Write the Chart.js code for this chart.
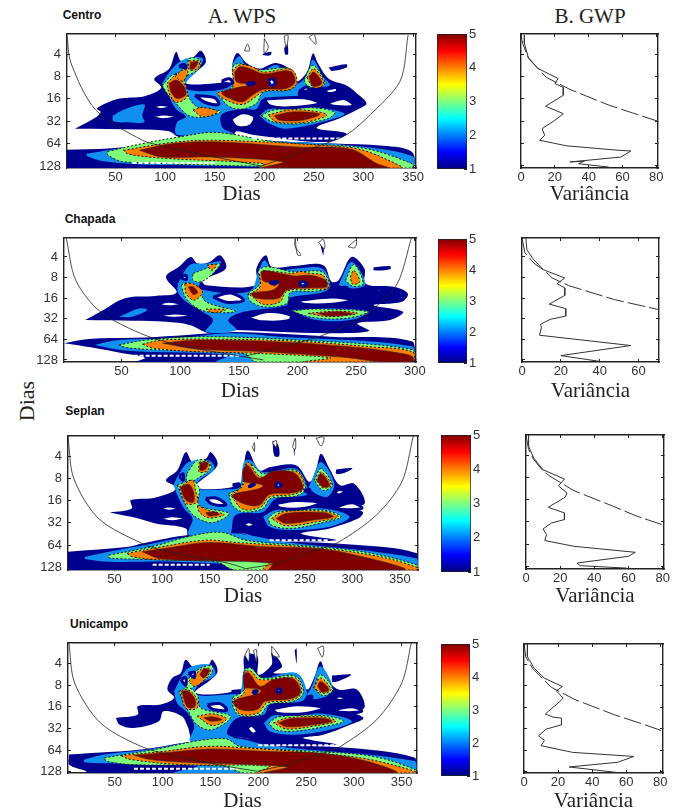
<!DOCTYPE html>
<html>
<head>
<meta charset="utf-8">
<title>WPS e GWP</title>
<script src="https://cdn.jsdelivr.net/npm/chart.js@4"></script>
<style>
  html, body { margin: 0; background: #fff; overflow: hidden; }
  #page { position: relative; width: 680px; height: 808px; overflow: hidden; }
  canvas { position: absolute; }
  .txt { position: absolute; color: #222; white-space: nowrap; transform: translate(-50%, -50%); }
  .serif { font-family: "Liberation Serif", serif; font-size: 21px; }
  .site { font-family: "Liberation Sans", sans-serif; font-size: 12px; font-weight: bold; color: #111; }
</style>
</head>
<body>
<div id="page">
  <div class="txt serif" style="left:242px;top:16px">A. WPS</div>
  <div class="txt serif" style="left:590px;top:16px">B. GWP</div>
  <div class="txt serif" style="left:27px;top:401px;font-size:22px;transform:translate(-50%,-50%) rotate(-90deg)">Dias</div>
  <div class="txt site" style="left:82px;top:15px">Centro</div>
  <div class="txt site" style="left:90px;top:219px">Chapada</div>
  <div class="txt site" style="left:85px;top:411px">Seplan</div>
  <div class="txt site" style="left:99px;top:624px">Unicampo</div>
</div>
<script>
// tick labels
var periodTicks = [4, 8, 16, 32, 64, 128];
var dayTicksCentro = [50, 100, 150, 200, 250, 300, 350];
var dayTicksChapada = [50, 100, 150, 200, 250, 300];
var dayTicksSeplan = [50, 100, 150, 200, 250, 300, 350];
var dayTicksUnicampo = [50, 100, 150, 200, 250, 300, 350];
var varTicks = [0, 20, 40, 60, 80];
var varTicksChapada = [0, 20, 40, 60];
var colorTicks = [1, 2, 3, 4, 5];
var colorRange = [1, 5];

// WPS contours: [day, log2(period)], one list per power level
var centroNavy = [
  [[9,5.33],[31,4.8],[35,4.58],[31,4.43],[53,4],[79,3.88],[96,3.5],[89,3.1],[104,2.65],[111,1.9],[116,2.3],[128,2.15],[136,1.85],[141,2.35],[131,2.8],[121,3.3],[151,3.3],[168,3.15],[168,2.4],[173,1.95],[182,2.4],[195,2.65],[212,2.4],[229,2.8],[232,3.25],[243,2.8],[249,1.97],[254,2.4],[265,3.1],[283,3.4],[292,3.7],[303,4.2],[293,4.5],[276,4.87],[253,5.3],[283,5.55],[263,5.93],[188,5.6],[172,5.45],[168,5.65],[114,5.7],[104,5.45],[74,5.37]],
  [[265,2.6],[283,2.45],[283,2.6],[268,2.75]],
  [[198,2],[207,1.9],[206,2.05],[200,2.05]],
  [[220,1.75],[223,1.5],[224,2],[221,2]],
  [[0,6.27],[43,6.22],[100,5.95],[160,5.6],[200,5.85],[270,6],[320,6.1],[349,6.37],[349,7.09],[0,7.09]]
];
var centroBlue = [
  [[47,4.75],[60,4.45],[79,4.25],[77,4.75],[79,5.05],[63,5.05],[48,5]],
  [[97,3.3],[107,2.65],[121,2.2],[138,2.2],[133,2.7],[121,3.3],[124,3.6],[155,3.6],[168,3.3],[168,2.5],[175,2.1],[183,2.6],[199,2.7],[213,2.5],[232,3.3],[243,2.95],[249,2.25],[259,3],[266,3.4],[236,3.55],[232,4],[199,4],[192,4.45],[178,4.45],[157,4.7],[158,5.3],[169,5.55],[112,5.6],[112,5.05],[121,4.8],[111,4.45],[104,3.9]],
  [[195,4.75],[205,4.45],[249,4.37],[281,4.65],[265,4.95],[222,5.33],[205,5.1]],
  [[21,6.45],[45,6.27],[97,5.95],[130,5.65],[165,5.6],[200,5.85],[280,6.05],[349,6.55],[349,7.09],[300,7.09],[90,6.95],[40,6.8],[21,6.55]]
];
var centroGreen = [
  [[97,3.4],[109,2.9],[119,3.15],[122,3.75],[132,4.35],[156,4.55],[141,4.8],[124,4.75],[111,4.2],[102,3.75]],
  [[110,2.9],[122,2.65],[124,2.2],[135,2.25],[134,2.65],[121,2.95]],
  [[155,3.9],[168,3.4],[168,2.6],[173,2.42],[182,2.5],[195,2.7],[226,2.65],[232,3.3],[226,3.6],[199,3.7],[192,4.2],[178,4.45],[165,4.35]],
  [[197,4.75],[209,4.5],[249,4.4],[271,4.6],[263,4.9],[233,5.12],[209,5.03]],
  [[240,3.15],[249,2.5],[261,3.3],[253,3.5],[243,3.4]],
  [[42,6.35],[77,6],[121,5.65],[145,5.5],[168,5.58],[200,5.85],[232,6],[300,6.2],[349,6.9],[349,7.09],[300,7.09],[59,6.82],[42,6.5]]
];
var centroOrange = [
  [[102,3.3],[111,2.95],[119,3.3],[122,3.9],[111,4.15],[104,3.75]],
  [[110,3],[118,2.7],[123,2.75],[118,3.2]],
  [[124,2.3],[134,2.3],[133,2.65],[124,2.7]],
  [[128,4.5],[138,4.38],[153,4.58],[138,4.8]],
  [[168,2.75],[175,2.48],[187,2.55],[199,2.8],[227,2.68],[233,3.27],[224,3.6],[200,3.65],[190,3.95],[178,4.25],[163,4.08],[153,3.75],[168,3.48]],
  [[204,4.72],[229,4.48],[263,4.7],[243,5.03],[212,5.03]],
  [[243,3.05],[250,2.65],[260,3.33],[250,3.5]],
  [[58,6.3],[107,5.95],[151,5.85],[266,6.1],[300,6.3],[339,7.03],[339,7.09],[195,7.09],[200,6.9],[97,6.65],[63,6.47]]
];
var centroRed = [
  [[170,2.8],[175,2.57],[185,2.64],[199,2.88],[226,2.76],[231,3.24],[222,3.54],[199,3.58],[188,3.84],[178,4.13],[165,3.98],[157,3.73],[168,3.54],[187,3.36],[172,3.24]],
  [[104,3.3],[111,3.16],[118,3.38],[121,3.8],[112,3.98],[106,3.7]],
  [[126,2.35],[133,2.35],[129,2.65],[125,2.65]],
  [[210,4.75],[229,4.58],[256,4.68],[239,4.95],[215,4.95]],
  [[245,3],[250,2.8],[258,3.3],[249,3.43]],
  [[74,6.3],[107,6],[151,5.92],[232,6.15],[287,6.25],[314,6.9],[325,7.09],[198,7.09],[219,6.82],[148,6.6],[97,6.6]]
];
var centroHoles = [
  [[86,4.35],[96,4.25],[106,4.35],[96,4.48]],
  [[84,4.8],[98,4.68],[113,4.8],[98,4.93]],
  [[130,3.85],[150,3.95],[154,4.25],[140,4.15]],
  [[166,4.9],[178,4.62],[190,4.8],[186,5.2],[172,5.25]],
  [[200,4],[240,3.95],[256,4.2],[225,4.4],[205,4.3]],
  [[263,4.2],[280,3.98],[290,4.3],[270,4.33]],
  [[262,3.58],[273,3.5],[273,3.7],[263,3.73]],
  [[238,3.55],[243,3.47],[245,3.6],[240,3.65]],
  [[157,3.2],[165,3.1],[168,3.3],[160,3.3]],
  [[114,2.55],[119,2.45],[121,2.6]],
  [[204,3.2],[208,3.1],[211,3.3],[207,3.4]],
  [[182,3.3],[190,3.28],[185,3.38]]
];
var centroStrips = [[[188,5.77],[277,5.77]], [[67,6.87],[150,6.87]]];
var centroOutlines = [
  [[180,1.85],[183,1.55],[185,1.85]],
  [[200,1.3],[204,1.7],[200,1.95]],
  [[220,1.2],[224,1.15],[222,1.7]],
  [[245,1.25],[250,1.1],[252,1.55]]
];
var centroCone = [
  [[1,1.15],[5,2.4],[30,4.5],[77,5.85],[97,6.1],[150,6.6],[197,7]],
  [[345,1.15],[337,3.2],[307,4.7],[283,5.6],[252,6.15],[197,7]]
];

var chapadaNavy = [
  [[19,5.06],[32,4.66],[53,4],[79,3.89],[97,3.73],[88,2.97],[99,2.48],[109,2],[115,2.32],[125,2.24],[134,1.92],[139,2.56],[119,3.13],[122,3.37],[165,3.37],[165,2.56],[173,1.92],[178,2.48],[197,2.44],[222,2.4],[229,3.2],[235,3.13],[246,2],[257,2.56],[258,3.3],[282,3.45],[294,3.77],[289,4.18],[265,4.34],[290,4.66],[279,5.06],[251,5.22],[261,5.6],[228,5.7],[182,5.63],[142,5.55],[125,5.7],[108,5.3],[88,5.15],[60,5.1]],
  [[265,2.5],[279,2.45],[279,2.6],[265,2.65]],
  [[219,1.3],[222,1.2],[222,1.9]],
  [[1,6.19],[22,5.98],[62,5.92],[97,5.82],[142,5.65],[182,5.72],[228,5.87],[298,6.11],[298,7.1],[62,7.1],[70,6.9],[51,6.68],[25,6.4]]
];
var chapadaBlue = [
  [[98,3.3],[108,2.4],[122,2.32],[135,2.24],[119,3.13],[116,3.55],[159,3.66],[167,2.65],[172,2.16],[179,2.65],[199,2.56],[221,2.56],[228,3.37],[222,3.7],[192,4],[191,4.34],[154,4.66],[141,5.06],[148,5.55],[122,5.63],[128,5.06],[119,4.66],[105,4.18],[98,3.7]],
  [[48,4.9],[65,4.5],[72,4.58],[59,4.9]],
  [[194,4.58],[228,4.5],[261,4.66],[245,5.06],[216,5.06]],
  [[235,3.37],[246,2.24],[258,3.3],[249,3.53]],
  [[27,6.27],[48,6.03],[97,5.95],[142,5.7],[185,5.87],[298,6.35],[298,7.1],[131,7.1],[142,6.76],[71,6.6],[48,6.5]]
];
var chapadaGreen = [
  [[101,3.37],[106,3.24],[116,3.6],[122,4.18],[147,4.63],[128,4.7],[115,4.5],[105,4]],
  [[111,2.8],[122,2.56],[134,2.32],[128,2.8],[118,3.2],[111,3.13]],
  [[158,3.77],[168,3.3],[167,2.65],[174,2.48],[197,2.73],[221,2.73],[227,3.45],[216,3.66],[194,3.72],[191,4.26],[171,4.42],[159,4.1]],
  [[195,4.63],[214,4.53],[260,4.66],[242,4.98],[214,4.95]],
  [[241,3.13],[248,2.37],[256,3.3],[247,3.42]],
  [[48,6.27],[71,6.03],[119,5.87],[199,6.03],[298,6.5],[298,7.1],[165,7.1],[154,6.68],[77,6.5],[54,6.4]]
];
var chapadaOrange = [
  [[104,3.3],[111,3.3],[119,3.7],[112,4.1],[105,3.77]],
  [[123,2.4],[131,2.37],[127,2.65]],
  [[122,4.53],[139,4.56],[128,4.7]],
  [[159,3.82],[168,3.45],[169,2.73],[197,2.8],[202,2.7],[211,2.8],[222,2.9],[226,3.5],[214,3.56],[191,3.66],[185,4.18],[171,4.3]],
  [[209,4.74],[234,4.63],[251,4.74],[228,4.9]],
  [[245,2.97],[248,2.65],[253,3.2],[247,3.32]],
  [[68,6.24],[85,6.03],[142,6],[205,6.11],[259,6.35],[298,6.6],[298,7.1],[205,7.1],[228,6.9],[165,6.68],[114,6.6],[77,6.43]]
];
var chapadaRed = [
  [[169,2.8],[171,2.65],[197,2.92],[211,2.89],[224,3.13],[225,3.45],[214,3.5],[191,3.6],[184,4],[165,4],[161,3.77],[179,3.6],[184,3.3],[171,3.18]],
  [[217,4.74],[234,4.66],[247,4.77],[228,4.87]],
  [[107,3.45],[111,3.45],[115,3.73],[111,3.82]],
  [[85,6.19],[114,6.03],[194,6.15],[257,6.43],[288,6.68],[298,6.84],[298,7.1],[271,7.1],[241,6.88],[171,6.6],[114,6.47]]
];
var chapadaHoles = [
  [[79,4.3],[90,4.15],[101,4.3],[90,4.42]],
  [[79,4.85],[95,4.72],[112,4.85],[95,4.98]],
  [[128,3.95],[143,3.75],[154,4.1],[140,4.2]],
  [[157,4.95],[175,4.65],[195,4.85],[192,5.1],[170,5.15]],
  [[200,4.1],[230,3.95],[247,4.1],[230,4.3],[205,4.3]],
  [[262,3.6],[271,3.55],[271,3.7]],
  [[235,3.5],[242,3.48],[242,3.62]],
  [[99,2.95],[105,2.9],[105,3.1]],
  [[201,3.25],[205,3.2],[208,3.33],[204,3.4]],
  [[176,3.24],[183,3.2],[180,3.33]]
];
var chapadaStrips = [[[45,6.8],[150,6.8]]];
var chapadaOutlines = [
  [[198,1.1],[198,1.5],[203,1.9],[200,1.9]],
  [[218,1.3],[222,1.15],[223,1.6]],
  [[243,1.5],[250,1.2],[249,1.55]]
];
var chapadaCone = [
  [[3,1.1],[11,3.13],[32,4.66],[71,5.82],[105,6.35],[154,6.84],[171,7]],
  [[297,1.1],[285,3.3],[265,4.5],[242,5.3],[214,5.95],[171,6.6],[154,6.84]]
];

var seplanNavy = [
  [[45,4.54],[68,4.36],[67,3.99],[91,3.88],[111,3.61],[114,3.39],[104,3.09],[116,2.64],[125,1.82],[132,2.27],[146,2.12],[151,1.82],[158,2.42],[135,3.39],[181,3.31],[185,2.64],[190,1.75],[202,2.64],[214,2.49],[241,2.42],[255,3.16],[262,2.57],[267,1.9],[276,2.57],[287,3.31],[302,3.24],[313,4.13],[292,4.28],[311,4.51],[306,4.81],[276,5.25],[246,5.48],[283,5.78],[206,5.78],[185,5.48],[128,5.63],[125,5.25],[93,5.03],[75,4.81]],
  [[283,2.6],[300,2.55],[292,2.75],[283,2.8]],
  [[216,1.3],[222,1.5],[223,2],[218,2]],
  [[238,1.5],[240,1.2],[239,2]],
  [[0,6.3],[65,6.07],[79,5.93],[128,5.55],[185,5.48],[206,5.78],[283,5.93],[368,6.37],[368,7.12],[0,7.12]]
];
var seplanBlue = [
  [[112,3.31],[118,2.79],[128,2.27],[149,2.19],[155,2.57],[139,3.09],[135,3.46],[170,3.49],[181,3.39],[186,2.27],[193,2.19],[206,2.72],[241,2.57],[253,3.46],[251,3.76],[220,3.91],[206,4.51],[177,4.66],[170,5.55],[128,5.55],[132,4.81],[123,4.36],[116,3.76]],
  [[206,4.73],[220,4.43],[269,4.36],[297,4.73],[276,5.18],[234,5.33],[213,5.18]],
  [[258,3.01],[267,2.27],[281,3.24],[273,3.84],[255,3.46]],
  [[19,6.52],[44,6.3],[82,6],[128,5.63],[177,5.48],[227,5.85],[368,6.6],[368,7.12],[300,7.12],[114,6.75],[44,6.75],[19,6.63]]
];
var seplanGreen = [
  [[126,2.79],[137,2.19],[149,2.27],[151,2.57],[137,3.01],[126,3.24]],
  [[116,3.31],[132,3.09],[139,3.46],[139,4.21],[170,4.58],[153,4.99],[135,4.73],[125,4.21]],
  [[170,3.69],[183,3.39],[188,2.34],[195,2.42],[206,2.79],[241,2.64],[251,3.46],[241,3.79],[214,3.91],[206,4.36],[185,4.51],[174,4.21]],
  [[211,4.81],[221,4.51],[269,4.43],[288,4.73],[269,4.99],[237,5.25],[216,5.13]],
  [[260,3.09],[267,2.57],[279,3.31],[269,3.54]],
  [[44,6.45],[89,6.07],[135,5.55],[163,5.43],[188,5.78],[241,6],[311,6.3],[368,6.9],[368,7.12],[177,7.12],[156,6.75],[68,6.63],[44,6.57]]
];
var seplanOrange = [
  [[118,3.39],[132,3.09],[135,3.54],[137,4.06],[125,4.13]],
  [[137,4.21],[148,4.43],[165,4.63],[149,4.78],[139,4.51]],
  [[139,2.27],[149,2.27],[148,2.64],[139,2.72]],
  [[172,3.76],[185,3.31],[190,2.27],[204,2.94],[241,2.69],[249,3.46],[237,3.73],[213,3.84],[204,4.28],[185,4.39]],
  [[215,4.81],[227,4.51],[269,4.48],[285,4.73],[262,4.96],[230,5.13]],
  [[262,3.09],[267,2.72],[278,3.31],[269,3.43]],
  [[63,6.37],[100,6.07],[146,5.78],[177,5.88],[269,6.15],[329,6.52],[368,7],[368,7.12],[206,7.12],[213,6.75],[100,6.67],[68,6.52]]
];
var seplanRed = [
  [[119,3.39],[128,3.27],[133,3.61],[133,4.06],[125,3.99]],
  [[140,2.3],[148,2.3],[146,2.57],[140,2.64]],
  [[146,4.54],[156,4.51],[160,4.63],[149,4.69]],
  [[185,3.16],[185,2.64],[190,2.42],[202,2.99],[216,2.69],[239,2.76],[248,3.46],[236,3.66],[213,3.73],[202,4.21],[185,4.13],[174,3.76],[202,3.46],[206,3.31]],
  [[220,4.81],[230,4.58],[269,4.54],[280,4.73],[258,4.88],[230,5.03]],
  [[263,3.09],[267,2.79],[276,3.31],[269,3.39]],
  [[79,6.3],[107,6.12],[149,5.88],[206,6.07],[269,6.18],[325,6.67],[355,7.04],[355,7.12],[213,7.12],[216,6.82],[100,6.63]]
];
var seplanHoles = [
  [[96,4.36],[107,4.25],[118,4.36],[107,4.48]],
  [[95,4.82],[110,4.68],[125,4.8],[110,4.95]],
  [[146,3.9],[158,3.9],[167,4.2],[152,4.15]],
  [[185,5.08],[191,4.95],[197,5.08],[191,5.2]],
  [[218,4.15],[240,4],[266,4.1],[250,4.35],[225,4.35]],
  [[281,4.3],[300,4.1],[310,4.35],[290,4.4]],
  [[281,3.6],[287,3.5],[292,3.6],[285,3.75]],
  [[118,2.9],[122,2.8],[122,3.1]],
  [[174,3.3],[181,3.25],[181,3.35]],
  [[249,3.55],[255,3.5],[254,3.65]],
  [[219,3.3],[222,3.2],[225,3.3],[222,3.4]],
  [[192,3.3],[197,3.28],[192,3.38]]
];
var seplanStrips = [[[213,5.78],[276,5.78]], [[90,6.88],[150,6.88]]];
var seplanOutlines = [
  [[195,1.6],[197,1.4],[197,1.8]],
  [[216,1.4],[220,1.3],[220,1.6]],
  [[237,1.6],[240,1.2],[240,1.7]],
  [[262,1.2],[270,1.15],[267,1.55]]
];
var seplanCone = [
  [[1,1.1],[7,3],[33,4.8],[79,5.93],[107,6.3],[170,6.82],[188,7.06]],
  [[364,1.1],[352,3.16],[325,4.66],[285,5.88],[265,6.18],[220,6.82],[188,7.06]]
];

var unicampoNavy = [
  [[51,4.51],[74,4.35],[74,3.97],[98,3.89],[112,3.58],[105,3.2],[110,2.66],[119,2.43],[124,1.82],[133,2.2],[147,2.12],[152,1.82],[157,2.43],[134,3.35],[181,3.2],[185,2.51],[186,1.6],[199,1.66],[200,2.51],[214,2.05],[214,1.5],[225,2.12],[216,2.43],[240,2.51],[251,3.2],[259,2.58],[265,1.89],[272,2.66],[284,3.2],[303,3.2],[311,4.05],[291,4.12],[310,4.51],[296,4.82],[268,5.28],[247,5.43],[282,5.74],[202,5.74],[185,5.43],[133,5.58],[126,4.89],[120,4.43],[101,4.2],[96,4.66],[70,4.97],[55,4.82]],
  [[277,2.55],[297,2.5],[290,2.7],[278,2.85]],
  [[238,1.4],[240,1.3],[240,2]],
  [[2,6.2],[77,5.97],[133,5.58],[185,5.43],[202,5.74],[282,5.85],[364,6.35],[364,7.05],[20,7.05],[20,6.97],[2,6.66]]
];
var unicampoBlue = [
  [[112,3.28],[119,2.66],[127,2.2],[150,2.05],[155,2.51],[138,2.97],[134,3.43],[167,3.43],[181,3.28],[185,2.28],[193,2.2],[202,2.66],[240,2.43],[251,3.35],[245,3.74],[212,3.89],[206,4.35],[178,4.51],[167,5.2],[174,5.43],[129,5.58],[133,4.89],[126,4.28],[115,3.82]],
  [[206,4.74],[216,4.4],[268,4.31],[298,4.66],[275,5.05],[237,5.28],[212,5.12]],
  [[256,3.05],[265,2.12],[278,3.12],[270,3.54],[251,3.58]],
  [[18,6.43],[39,6.2],[84,5.97],[133,5.58],[174,5.43],[212,5.78],[364,6.5],[364,7.05],[112,7.05],[136,6.74],[39,6.6],[18,6.55]]
];
var unicampoGreen = [
  [[124,2.82],[140,2.2],[152,2.12],[150,2.51],[136,2.97],[126,3.2]],
  [[117,3.28],[127,3.12],[136,3.43],[140,4.05],[171,4.43],[152,5.05],[136,4.82],[126,4.12]],
  [[173,3.58],[185,3.2],[186,2.35],[192,2.2],[204,2.66],[239,2.58],[247,3.35],[237,3.74],[211,3.89],[202,4.35],[181,4.4],[174,4.05]],
  [[211,4.74],[221,4.46],[268,4.4],[289,4.66],[268,4.92],[237,5.12],[218,5.05]],
  [[258,3.12],[265,2.51],[278,3.2],[268,3.48]],
  [[39,6.35],[91,5.97],[140,5.54],[167,5.48],[181,5.82],[258,6.05],[320,6.28],[364,6.89],[364,7.05],[185,7.05],[164,6.74],[67,6.66],[41,6.5]]
];
var unicampoOrange = [
  [[127,2.82],[141,2.25],[150,2.25],[147,2.58],[134,3.05]],
  [[119,3.28],[126,3.2],[135,3.58],[136,4.05],[124,4.05]],
  [[136,4.43],[152,4.32],[167,4.55],[152,4.86]],
  [[174,3.66],[185,3.35],[185,2.43],[192,2.35],[202,2.74],[239,2.66],[245,3.35],[235,3.69],[209,3.82],[200,4.28],[180,4.31]],
  [[216,4.74],[230,4.51],[268,4.46],[281,4.66],[261,4.86],[230,5.02]],
  [[258,3.12],[265,2.66],[276,3.2],[268,3.38]],
  [[56,6.25],[101,6.05],[147,5.82],[185,5.89],[268,6.15],[317,6.43],[364,6.97],[364,7.05],[199,7.05],[212,6.74],[119,6.66],[67,6.43]]
];
var unicampoRed = [
  [[139,2.51],[143,2.25],[149,2.31],[143,2.66]],
  [[120,3.28],[126,3.25],[133,3.58],[134,3.97],[126,4.02]],
  [[143,4.5],[153,4.46],[162,4.58],[150,4.66]],
  [[185,3.12],[185,2.51],[190,2.43],[202,3.05],[216,2.74],[237,2.71],[244,3.35],[233,3.63],[207,3.74],[199,4.12],[181,4.12],[174,3.74],[202,3.35],[202,3.2]],
  [[221,4.74],[233,4.55],[268,4.52],[277,4.66],[258,4.82],[230,4.92]],
  [[262,3.05],[265,2.82],[274,3.2],[267,3.32]],
  [[70,6.23],[101,6.12],[150,5.94],[206,6.05],[268,6.15],[313,6.5],[344,7.05],[206,7.05],[230,6.77],[122,6.55],[87,6.43]]
];
var unicampoHoles = [
  [[147,3.9],[160,3.85],[167,4.15],[152,4.1]],
  [[188,5],[193,4.85],[199,5.15],[194,5.25]],
  [[214,4.1],[240,3.9],[268,4.05],[250,4.3],[220,4.3]],
  [[277,3.6],[285,3.5],[292,3.6],[285,3.7]],
  [[280,4.1],[300,4],[308,4.2],[285,4.25]],
  [[172,3.3],[180,3.25],[180,3.35]],
  [[119,2.75],[124,2.65],[124,3]],
  [[250,3.55],[256,3.5],[255,3.65]],
  [[127,2.45],[133,2.4],[133,2.65]],
  [[219,3.25],[221,3.15],[224,3.25],[221,3.35]],
  [[194,3.28],[199,3.25],[196,3.38]]
];
var unicampoStrips = [[[200,5.77],[280,5.77]], [[70,6.85],[180,6.85]]];
var unicampoOutlines = [
  [[186,1.6],[190,1.3],[190,1.9]],
  [[195,1.4],[198,1.35],[198,1.9]],
  [[214,1.2],[218,1.4],[222,1.7],[215,1.6]],
  [[262,1.3],[268,1.2],[267,1.7]]
];
var unicampoCone = [
  [[2,1.05],[8,2.9],[35,4.74],[79,5.85],[115,6.28],[171,6.77],[199,6.97]],
  [[360,1.05],[350,2.9],[324,4.58],[285,5.85],[268,6.12],[230,6.66],[199,6.97]]
];

// GWP curves: [variance, log2(period)]
var centroGwp = [[2,1.15],[2,1.52],[4.5,2.2],[10,2.64],[22,3.09],[20,3.31],[25,3.49],[25,3.84],[14.5,4.33],[25,4.66],[20,4.96],[12.5,5.33],[14,5.63],[11,5.85],[27,6.1],[58,6.3],[65,6.33],[59,6.6],[29,6.82],[37.5,6.78],[34,6.9],[52,7.05]];
var centroSig = [[0,1.15],[1,1.52],[4,2.12],[10,2.64],[15,3.04],[29,3.58],[52,4.28],[66,4.63],[80.5,4.99]];
var chapadaGwp = [[2,1.08],[2.5,1.65],[6,2.13],[11,2.62],[22,3.02],[18,3.3],[22,3.5],[22,3.87],[14,4.29],[22.5,4.51],[22.5,4.87],[14.5,5.03],[9.5,5.27],[10,5.43],[9,5.8],[56,6.3],[20,6.79],[40,7.07]];
var chapadaSig = [[0,1.08],[1.5,1.8],[6,2.29],[12,2.7],[15.5,3.02],[24,3.39],[47.5,4.07],[70.5,4.56]];
var seplanGwp = [[1.5,1.1],[1.5,1.6],[4.5,2.13],[10,2.66],[22.5,3.08],[19,3.38],[24,3.71],[23,3.89],[13,4.35],[22.5,4.6],[22.5,4.9],[15,5.05],[10,5.32],[12,5.57],[11,5.84],[28,6.1],[64,6.37],[60,6.55],[30,6.85],[31.5,6.97],[59,7.08]];
var seplanSig = [[0,1.1],[1.5,1.75],[4.5,2.2],[10,2.72],[14,2.95],[28,3.6],[51,4.3],[65,4.75],[79.5,5.12]];
var unicampoGwp = [[2,1.05],[2,1.64],[6,2.18],[12,2.64],[22.5,3.03],[19,3.23],[23,3.57],[20,3.8],[12.5,4.3],[17,4.45],[22,4.5],[22,4.81],[13,5.01],[8.5,5.32],[12,5.53],[10,5.78],[28.5,6.09],[64.5,6.28],[55,6.55],[26.5,6.77],[54,7.02]];
var unicampoSig = [[0,1.05],[1,1.64],[5,2.18],[12,2.75],[16,3.06],[29.5,3.62],[53,4.34],[68,4.73],[80.5,5.07]];

var ink = '#222';
var tickFont = { family: 'Liberation Sans', size: 13 };
var titleFont = { family: 'Liberation Serif', size: 21 };
var jet = [[0, '#00007f'], [0.125, '#0000ff'], [0.375, '#00ffff'], [0.625, '#ffff00'], [0.875, '#ff0000'], [1, '#7f0000']];
var page = document.getElementById('page');
var ML = 45, MR = 18, MT = 6;

function addCanvas(box, mb) {
  var c = document.createElement('canvas');
  c.width = box.x1 - box.x0 + ML + MR;
  c.height = box.y1 - box.y0 + MT + mb;
  c.style.left = (box.x0 - ML) + 'px';
  c.style.top = (box.y0 - MT) + 'px';
  page.appendChild(c);
  return c;
}

function polyLayers(list, color, line) {
  return list.map(function (pts) {
    return {
      data: pts.concat([pts[0]]), showLine: true, pointRadius: 0, tension: 0.35,
      fill: 'shape', backgroundColor: color,
      borderColor: line ? line.color : color,
      borderWidth: line ? line.width : 0,
      borderDash: line && line.dash ? line.dash : []
    };
  });
}

function lineLayers(list, color, width, dash, tension) {
  return list.map(function (pts) {
    return { data: pts, showLine: true, pointRadius: 0, tension: tension, fill: false,
      borderColor: color, borderWidth: width, borderDash: dash };
  });
}

// fixed scale size, and no extra room for the first/last tick label
function fixSize(prop, v) {
  return function (s) {
    s[prop] = v;
    s.paddingTop = s.paddingBottom = s.paddingLeft = s.paddingRight = 0;
  };
}

// x and y axis plus two empty ones, so the box and the inward ticks show on all 4 sides
function boxScales(o) {
  function ticksAt(vals) {
    return function (s) { s.ticks = vals.map(function (v) { return { value: v }; }); };
  }
  var grid = { drawOnChartArea: false, tickLength: -3, color: ink };
  var border = { color: ink, width: 1.4 };
  var xBase = { type: 'linear', min: o.xMin, max: o.xMax, grid: grid, border: border, afterBuildTicks: ticksAt(o.xTicks) };
  var yBase = { type: 'linear', min: o.yMin, max: o.yMax, reverse: true, grid: grid, border: border, afterBuildTicks: ticksAt(o.yTicks) };
  return {
    x: Object.assign({}, xBase, {
      position: 'bottom', afterFit: fixSize('height', o.mb),
      ticks: { padding: 5, font: tickFont, color: '#333', maxRotation: 0, autoSkip: false },
      title: { display: true, text: o.title, font: titleFont, color: ink, padding: 0 }
    }),
    y: Object.assign({}, yBase, {
      position: 'left', afterFit: fixSize('width', ML),
      ticks: { display: o.yLabels, padding: 9, font: tickFont, color: '#333', autoSkip: false,
        callback: function (v) { return Math.pow(2, v); } }
    }),
    xTop: Object.assign({}, xBase, { position: 'top', afterFit: fixSize('height', 0), ticks: { display: false } }),
    yRight: Object.assign({}, yBase, { position: 'right', afterFit: fixSize('width', 0), ticks: { display: false } })
  };
}

function drawWps(box, p) {
  var dashed = { color: '#111', width: 1, dash: [2, 2] };
  var layers = [].concat(
    polyLayers(p.navy, '#00008f'),
    polyLayers(p.blue, '#0f8fef'),
    polyLayers(p.green, '#7dff7a', dashed),
    polyLayers(p.orange, '#ff7f00', dashed),
    polyLayers(p.red, '#800000', { color: '#333', width: 0.6 }),
    polyLayers(p.holes, '#fff', { color: '#00008f', width: 3 }),
    lineLayers(p.strips, '#fff', 2, [4, 2], 0),
    polyLayers(p.outlines, '#fff', { color: ink, width: 0.8 }),
    lineLayers(p.cone, ink, 0.8, [], 0.3)
  );
  new Chart(addCanvas(box, box.mb), {
    type: 'scatter',
    data: { datasets: layers.reverse() }, // first dataset is painted last
    options: {
      responsive: false, animation: false,
      layout: { autoPadding: false, padding: { top: MT, right: MR, left: 0, bottom: 0 } },
      plugins: { legend: { display: false }, tooltip: { enabled: false } },
      scales: boxScales({ xMin: 1, xMax: box.xMax, xTicks: p.dayTicks, yMin: box.yMin, yMax: box.yMax,
        yTicks: periodTicks.map(Math.log2), yLabels: true, mb: box.mb, title: 'Dias' })
    }
  });
}

function drawGwp(box, ticks, gwp, sig) {
  var layers = [].concat(
    lineLayers([gwp], '#333', 1, [], 0),
    lineLayers([sig], '#333', 1, [18, 4], 0)
  );
  new Chart(addCanvas(box, box.mb), {
    type: 'scatter',
    data: { datasets: layers },
    options: {
      responsive: false, animation: false,
      layout: { autoPadding: false, padding: { top: MT, right: MR, left: 0, bottom: 0 } },
      plugins: { legend: { display: false }, tooltip: { enabled: false } },
      scales: boxScales({ xMin: 0, xMax: box.xMax, xTicks: ticks, yMin: box.yMin, yMax: box.yMax,
        yTicks: periodTicks.map(Math.log2), yLabels: false, mb: box.mb, title: 'Variância' })
    }
  });
}

function drawColorbar(box) {
  new Chart(addCanvas(box, 10), {
    type: 'bar',
    data: {
      labels: [''],
      datasets: [{
        data: [colorRange], barPercentage: 1, categoryPercentage: 1,
        borderColor: ink, borderWidth: 1, borderSkipped: false,
        backgroundColor: function (ctx) {
          var area = ctx.chart.chartArea;
          if (!area) return '#000';
          var g = ctx.chart.ctx.createLinearGradient(0, area.bottom, 0, area.top);
          jet.forEach(function (s) { g.addColorStop(s[0], s[1]); });
          return g;
        }
      }]
    },
    options: {
      responsive: false, animation: false,
      layout: { autoPadding: false, padding: { top: MT, bottom: 10, left: ML, right: 0 } },
      plugins: { legend: { display: false }, tooltip: { enabled: false } },
      scales: {
        x: { display: false },
        y: {
          position: 'right', min: 1, max: 5,
          afterBuildTicks: function (s) { s.ticks = colorTicks.map(function (v) { return { value: v }; }); },
          afterFit: fixSize('width', MR),
          grid: { drawOnChartArea: false, tickLength: -3, color: ink },
          border: { display: false },
          ticks: { padding: 5, font: tickFont, color: '#333', autoSkip: false }
        }
      }
    }
  });
}

drawWps({ x0: 67, x1: 416, y0: 34, y1: 168, xMax: 353, yMin: 1.1, yMax: 7.09, mb: 39 },
  { navy: centroNavy, blue: centroBlue, green: centroGreen, orange: centroOrange, red: centroRed,
    holes: centroHoles, strips: centroStrips, outlines: centroOutlines, cone: centroCone, dayTicks: dayTicksCentro });
drawWps({ x0: 64, x1: 416, y0: 238, y1: 362, xMax: 301, yMin: 1.08, yMax: 7.1, mb: 42 },
  { navy: chapadaNavy, blue: chapadaBlue, green: chapadaGreen, orange: chapadaOrange, red: chapadaRed,
    holes: chapadaHoles, strips: chapadaStrips, outlines: chapadaOutlines, cone: chapadaCone, dayTicks: dayTicksChapada });
drawWps({ x0: 68, x1: 418, y0: 436, y1: 570, xMax: 369, yMin: 1.1, yMax: 7.12, mb: 39 },
  { navy: seplanNavy, blue: seplanBlue, green: seplanGreen, orange: seplanOrange, red: seplanRed,
    holes: seplanHoles, strips: seplanStrips, outlines: seplanOutlines, cone: seplanCone, dayTicks: dayTicksSeplan });
drawWps({ x0: 68, x1: 417, y0: 643, y1: 773, xMax: 366, yMin: 1.05, yMax: 7.05, mb: 41 },
  { navy: unicampoNavy, blue: unicampoBlue, green: unicampoGreen, orange: unicampoOrange, red: unicampoRed,
    holes: unicampoHoles, strips: unicampoStrips, outlines: unicampoOutlines, cone: unicampoCone, dayTicks: dayTicksUnicampo });

drawColorbar({ x0: 437, x1: 467, y0: 34, y1: 169 });
drawColorbar({ x0: 438, x1: 467, y0: 239, y1: 363 });
drawColorbar({ x0: 441, x1: 471, y0: 435, y1: 572 });
drawColorbar({ x0: 441, x1: 470, y0: 644, y1: 776 });

drawGwp({ x0: 521, x1: 658, y0: 34, y1: 168, xMax: 81, yMin: 1.1, yMax: 7.09, mb: 39 }, varTicks, centroGwp, centroSig);
drawGwp({ x0: 522, x1: 659, y0: 238, y1: 362, xMax: 70.5, yMin: 1.08, yMax: 7.1, mb: 42 }, varTicksChapada, chapadaGwp, chapadaSig);
drawGwp({ x0: 526, x1: 664, y0: 435, y1: 569, xMax: 80.8, yMin: 1.1, yMax: 7.12, mb: 40 }, varTicks, seplanGwp, seplanSig);
drawGwp({ x0: 524, x1: 663, y0: 644, y1: 773, xMax: 81.6, yMin: 1.05, yMax: 7.05, mb: 41 }, varTicks, unicampoGwp, unicampoSig);
</script>
</body>
</html>
